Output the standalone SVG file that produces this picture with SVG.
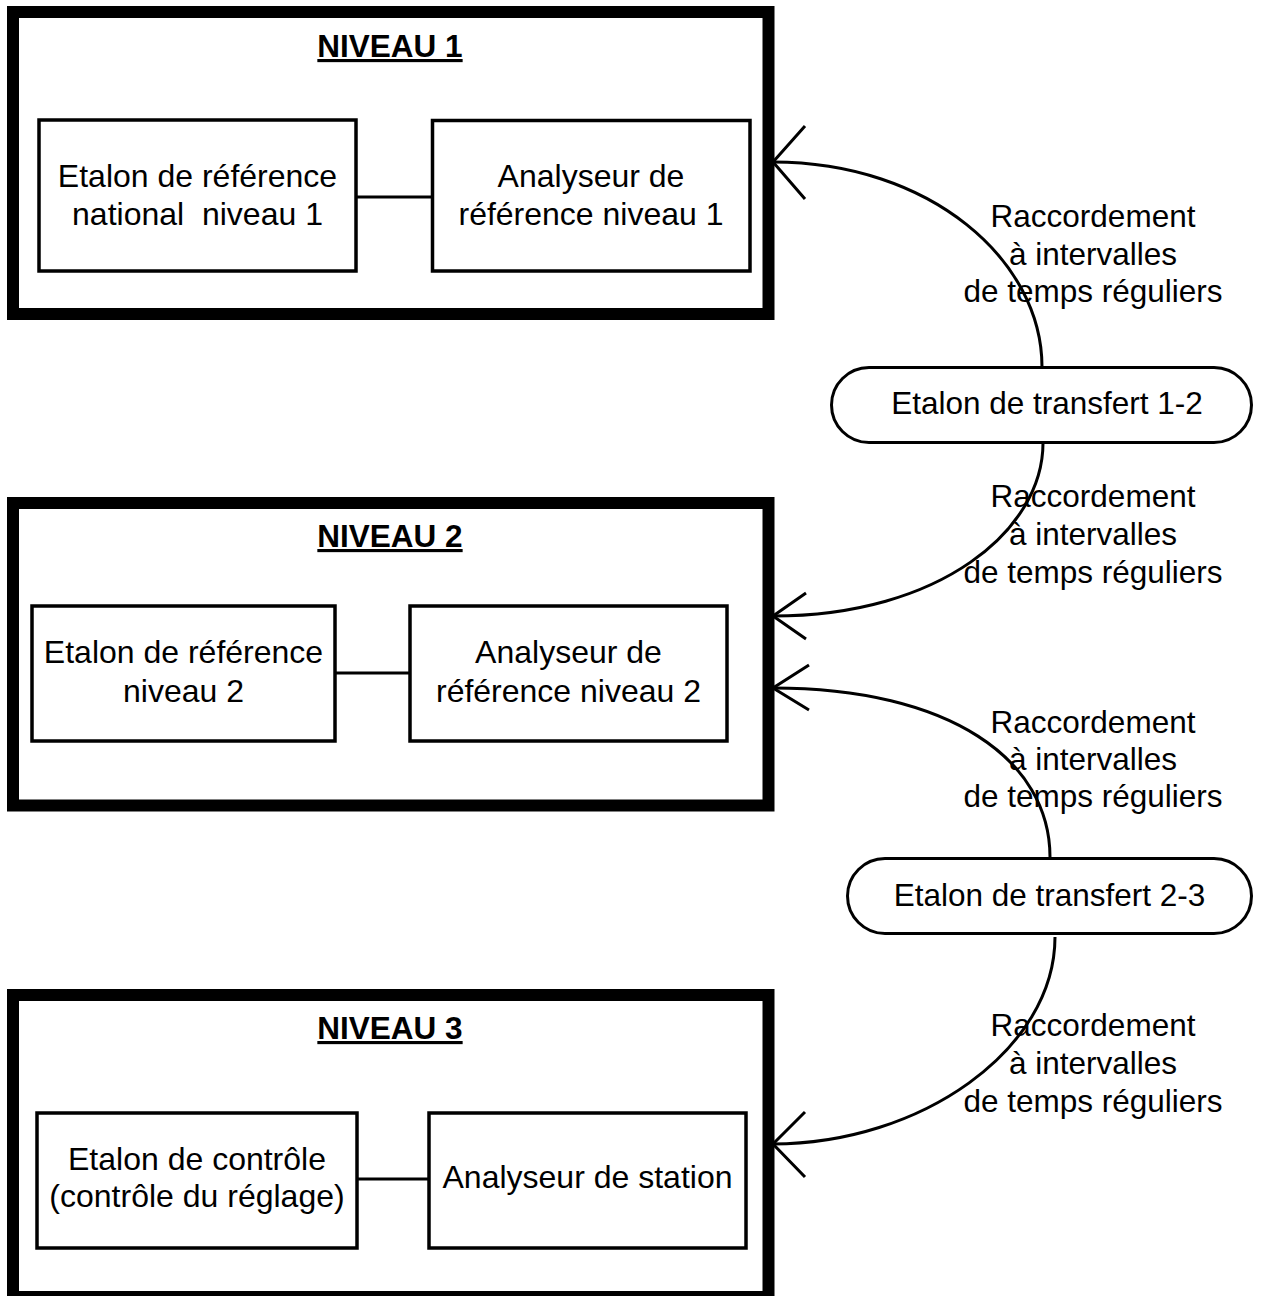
<svg xmlns="http://www.w3.org/2000/svg" width="1270" height="1296" viewBox="0 0 1270 1296">
<style>
.outer{fill:#fff;stroke:#000;stroke-width:12}
.box{fill:#fff;stroke:#000;stroke-width:3.5}
.pill{fill:#fff;stroke:#000;stroke-width:3}
.ln{fill:none;stroke:#000;stroke-width:3}
.t{font-family:"Liberation Sans",Arial,sans-serif;font-size:32px;fill:#000;text-anchor:middle;white-space:pre}
.lb{font-family:"Liberation Sans",Arial,sans-serif;font-size:31.5px;fill:#000;text-anchor:middle}
.ttl{font-family:"Liberation Sans",Arial,sans-serif;font-size:31.5px;font-weight:bold;fill:#000;text-anchor:middle;text-decoration:underline}
</style>
<rect width="1270" height="1296" fill="#fff"/>
<g id="niveau1">
<rect class="outer" x="13" y="12" width="755.5" height="302"/>
<text class="ttl" x="390" y="57">NIVEAU 1</text>
</g>
<g id="niveau2">
<rect class="outer" x="13" y="503" width="755.5" height="302.5"/>
<text class="ttl" x="390" y="547">NIVEAU 2</text>
</g>
<g id="niveau3">
<rect class="outer" x="13" y="995" width="755.5" height="302"/>
<text class="ttl" x="390" y="1039">NIVEAU 3</text>
</g>
<g id="connectors">
<line class="ln" x1="356" y1="197" x2="432" y2="197"/>
<line class="ln" x1="335" y1="673" x2="410" y2="673"/>
<line class="ln" x1="357" y1="1179" x2="429" y2="1179"/>
<path class="ln" d="M1042,367 C1042,260 930,162 773,162"/>
<path class="ln" d="M805,126 L773,162 L805,199"/>
<path class="ln" d="M1043,443 C1043,530 940,616 773,616"/>
<path class="ln" d="M806,593 L773,616 L806,639"/>
<path class="ln" d="M1050,857 C1050,760 950,688 773,688"/>
<path class="ln" d="M809,665 L773,688 L809,710"/>
<path class="ln" d="M1055,937 C1055,1050 920,1144 773,1144"/>
<path class="ln" d="M805,1112 L773,1144 L805,1177"/>
</g>
<g id="etalon-ref-1">
<rect class="box" x="39" y="120" width="317" height="151"/>
<text class="t" x="197.5" y="187">Etalon de référence</text>
<text class="t" x="197.5" y="225">national  niveau 1</text>
</g>
<g id="analyseur-ref-1">
<rect class="box" x="432.5" y="120.5" width="317.5" height="150.5"/>
<text class="t" x="591" y="187">Analyseur de</text>
<text class="t" x="591" y="225">référence niveau 1</text>
</g>
<g id="etalon-ref-2">
<rect class="box" x="32" y="606" width="303" height="135"/>
<text class="t" x="183.5" y="663">Etalon de référence</text>
<text class="t" x="183.5" y="702">niveau 2</text>
</g>
<g id="analyseur-ref-2">
<rect class="box" x="410" y="606" width="317" height="135"/>
<text class="t" x="568.5" y="663">Analyseur de</text>
<text class="t" x="568.5" y="702">référence niveau 2</text>
</g>
<g id="etalon-controle">
<rect class="box" x="37" y="1113" width="320" height="135"/>
<text class="t" x="197" y="1170">Etalon de contrôle</text>
<text class="t" x="197" y="1207">(contrôle du réglage)</text>
</g>
<g id="analyseur-station">
<rect class="box" x="429" y="1113" width="317" height="135"/>
<text class="t" x="587.5" y="1188">Analyseur de station</text>
</g>
<g id="transfert-1-2">
<rect class="pill" x="831.5" y="367.5" width="420" height="75" rx="37.5"/>
<text class="lb" x="1047" y="414">Etalon de transfert 1-2</text>
</g>
<g id="transfert-2-3">
<rect class="pill" x="847.5" y="858.5" width="404" height="75" rx="37.5"/>
<text class="lb" x="1049.5" y="906">Etalon de transfert 2-3</text>
</g>
<g id="labels">
<text class="lb" x="1093" y="227">Raccordement</text>
<text class="lb" x="1093" y="265">à intervalles</text>
<text class="lb" x="1093" y="302">de temps réguliers</text>
<text class="lb" x="1093" y="507">Raccordement</text>
<text class="lb" x="1093" y="545">à intervalles</text>
<text class="lb" x="1093" y="583">de temps réguliers</text>
<text class="lb" x="1093" y="733">Raccordement</text>
<text class="lb" x="1093" y="770">à intervalles</text>
<text class="lb" x="1093" y="807">de temps réguliers</text>
<text class="lb" x="1093" y="1036">Raccordement</text>
<text class="lb" x="1093" y="1074">à intervalles</text>
<text class="lb" x="1093" y="1112">de temps réguliers</text>
</g>
</svg>
